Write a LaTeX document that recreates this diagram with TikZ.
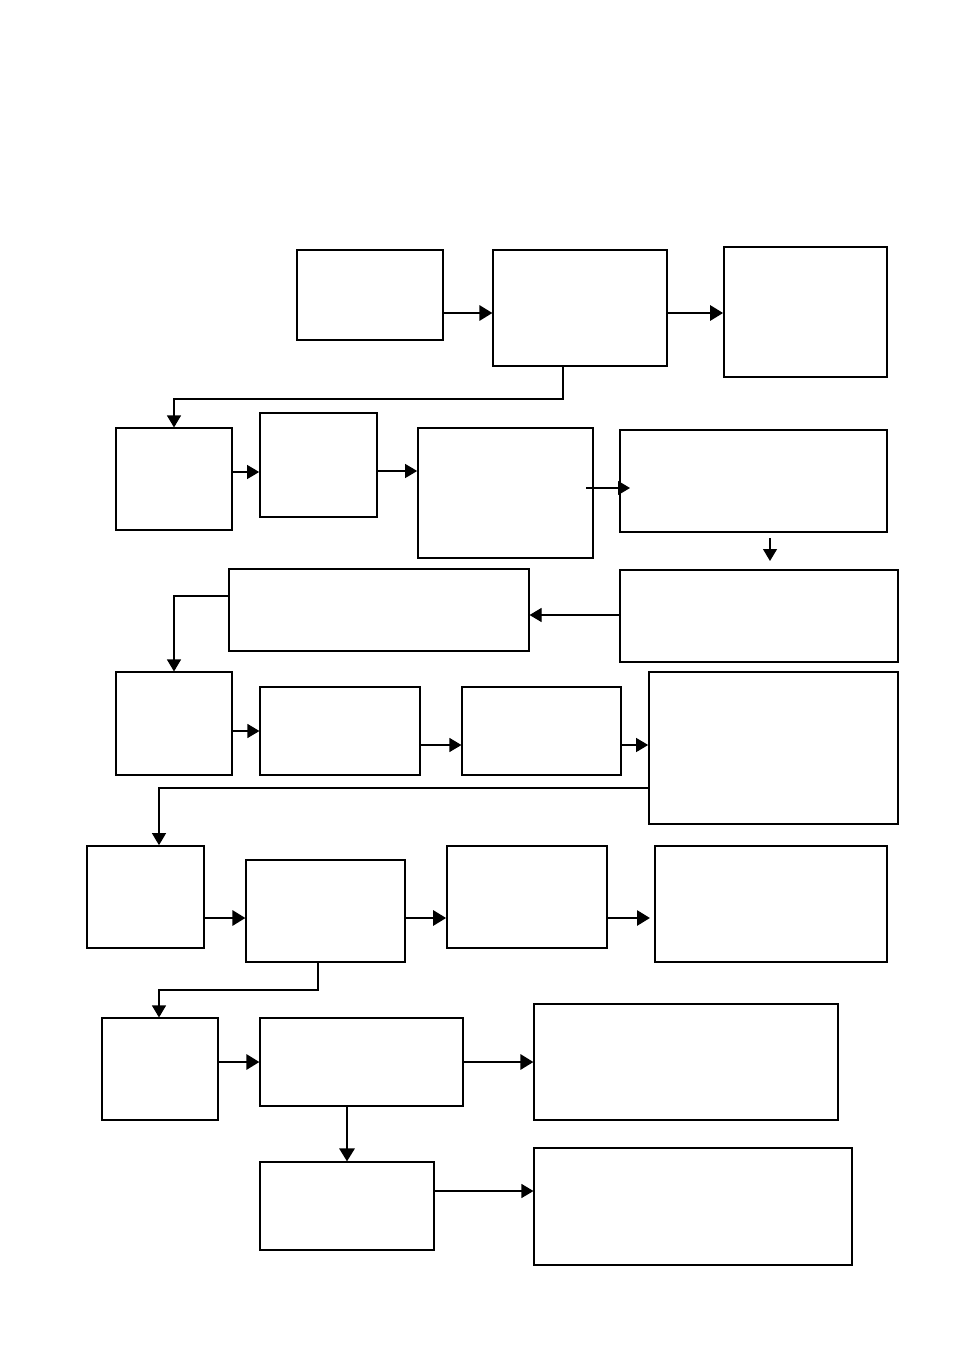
\documentclass[tikz,border=0pt]{standalone}
\usetikzlibrary{arrows.meta,positioning}

\begin{document}
\begin{tikzpicture}[x=1pt,y=-1pt,
    blk/.style={draw,line width=1.1pt,inner sep=0pt},
    heavy/.style={blk,line width=1.7pt},
    thin/.style={line width=1.1pt,-{Triangle[length=12pt,width=14pt]}},
    thick/.style={line width=2.8pt,-{Triangle[length=13pt,width=15pt]}}]
    \useasboundingbox (0,0) rectangle (954,1348);

    % row 1
    \node[blk,minimum width=146pt,minimum height=90pt] (st1) at (370,295) {};
    \node[blk,minimum width=174pt,minimum height=116pt] (st2) at (580,308) {};
    \node[heavy,minimum width=163pt,minimum height=130pt] (st3) at (805.5,312) {};

    % row 2
    \node[blk,minimum width=116pt,minimum height=102pt] (st4) at (174,479) {};
    \node[heavy,minimum width=117pt,minimum height=104pt] (st5) at (318.5,465) {};
    \node[heavy,minimum width=175pt,minimum height=130pt] (st6) at (505.5,493) {};
    \node[blk,minimum width=267pt,minimum height=102pt] (st7) at (753.5,481) {};

    % row 3
    \node[blk,minimum width=278pt,minimum height=92pt] (st8) at (759,616) {};
    \node[blk,minimum width=300pt,minimum height=82pt] (st9) at (379,610) {};

    % row 4
    \node[blk,minimum width=116pt,minimum height=103pt] (st10) at (174,723.5) {};
    \node[blk,minimum width=160pt,minimum height=88pt] (st11) at (340,731) {};
    \node[blk,minimum width=159pt,minimum height=88pt] (st12) at (541.5,731) {};
    \node[heavy,minimum width=249pt,minimum height=152pt] (st13) at (773.5,748) {};

    % row 5
    \node[heavy,minimum width=117pt,minimum height=102pt] (st14) at (145.5,897) {};
    \node[blk,minimum width=159pt,minimum height=102pt] (st15) at (325.5,911) {};
    \node[heavy,minimum width=160pt,minimum height=102pt] (st16) at (527,897) {};
    \node[blk,minimum width=232pt,minimum height=116pt] (st17) at (771,904) {};

    % row 6
    \node[blk,minimum width=116pt,minimum height=102pt] (st18) at (160,1069) {};
    \node[blk,minimum width=203pt,minimum height=88pt] (st19) at (361.5,1062) {};
    \node[blk,minimum width=304pt,minimum height=116pt] (st20) at (686,1062) {};
    \node[blk,minimum width=174pt,minimum height=88pt] (st21) at (347,1206) {};
    \node[blk,minimum width=318pt,minimum height=117pt] (st22) at (693,1206.5) {};

    % connectors
    \draw[thick] (st1.east |- 0,313) -- (st2.west |- 0,313);
    \draw[thick] (st2.east |- 0,313) -- (st3.west |- 0,313);
    \draw[thin] (563,366) |- (174,399) -- (st4.north);

    \draw[thin] (st4.east |- 0,472) -- (st5.west |- 0,472);
    \draw[thin] (st5.east |- 0,471) -- (st6.west |- 0,471);
    \draw[thin] (586,488) -- (630,488);
    \draw[thin] (770,538) -- (770,561);
    \draw[thin] (st8.west |- 0,615) -- (st9.east |- 0,615);
    \draw[thin] (st9.west |- 0,596) -- (174,596) -- (st10.north);

    \draw[thin] (st10.east |- 0,731) -- (st11.west |- 0,731);
    \draw[thin] (st11.east |- 0,745) -- (st12.west |- 0,745);
    \draw[thin] (st12.east |- 0,745) -- (st13.west |- 0,745);
    \draw[thin] (st13.west |- 0,788) -| (st14.north -| 159,0);

    \draw[thick] (st14.east |- 0,918) -- (st15.west |- 0,918);
    \draw[thick] (st15.east |- 0,918) -- (st16.west |- 0,918);
    \draw[thick] (st16.east |- 0,918) -- (650,918);
    \draw[thin] (318,962) |- (159,990) -- (st18.north -| 159,0);

    \draw[thick] (st18.east |- 0,1062) -- (st19.west);
    \draw[thick] (st19.east) -- (st20.west);
    \draw[thick] (st21.north |- st19.south) -- (st21.north);
    \draw[thin] (st21.east |- 0,1191) -- (st22.west |- 0,1191);
\end{tikzpicture}
\end{document}
